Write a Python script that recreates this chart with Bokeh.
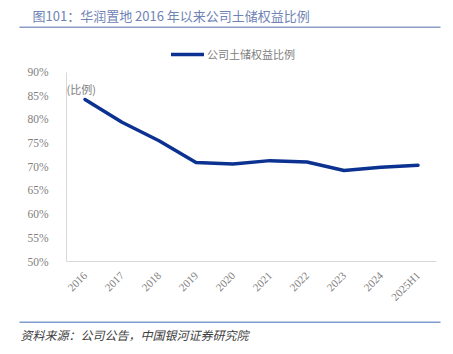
from bokeh.plotting import figure
from bokeh.layouts import column
from bokeh.models import (FactorRange, Range1d, FixedTicker, PrintfTickFormatter,
                          Label, Legend, LegendItem, ColumnDataSource)
from bokeh.core.properties import value
from bokeh.embed import file_html
from bokeh.resources import INLINE
import math

categories = ["2016", "2017", "2018", "2019", "2020", "2021", "2022", "2023", "2024", "2025H1"]
ratio = [84.2, 79.4, 75.5, 70.9, 70.6, 71.3, 71.0, 69.2, 69.9, 70.3]
y_ticks = [50, 55, 60, 65, 70, 75, 80, 85, 90]
y_min, y_max = 50, 90
series_name = "公司土储权益比例"
title_text = "图101：华润置地 2016 年以来公司土储权益比例"
source_text = "资料来源：公司公告，中国银河证券研究院"
unit_text = "(比例)"

W = 453
HEAD_H, FOOT_H = 44, 44
MAIN_H = 354 - HEAD_H - FOOT_H          # 266
LEFT, RIGHT = 66, 17
FRAME_BOTTOM = 218                      # within main figure
Y90_FROM_TOP = 27.7                     # px from frame top to the 90% line
px_per_unit = (FRAME_BOTTOM - Y90_FROM_TOP) / (y_max - y_min)
y_top = y_max + Y90_FROM_TOP / px_per_unit

SERIF = "'Liberation Serif', 'Noto Sans CJK SC'"
SANS = "'Noto Sans CJK SC'"
GREY = "#808080"


def blank(h):
    f = figure(width=W, height=h, x_range=Range1d(0, W), y_range=Range1d(h, 0),
               output_backend="svg", toolbar_location=None,
               min_border=0, min_border_left=0, min_border_right=0,
               min_border_top=0, min_border_bottom=0,
               x_axis_type=None, y_axis_type=None)
    f.outline_line_color = None
    f.xgrid.visible = False
    f.ygrid.visible = False
    f.frame_align = False
    return f


# header: title + rule
head = blank(HEAD_H)
head.text(x=[32], y=[14.5], text=[title_text], text_font=value(SANS),
          text_font_size="13px", text_color="#6f83b5",
          text_baseline="middle", text_align="left")
head.segment(x0=[19], y0=[26.8], x1=[440], y1=[26.8], line_color="#8a9cc8", line_width=1.6)

# main chart
p = figure(width=W, height=MAIN_H, x_range=FactorRange(*categories),
           y_range=Range1d(y_min, y_top), output_backend="svg", toolbar_location=None,
           min_border_left=LEFT, min_border_right=RIGHT,
           min_border_top=0, min_border_bottom=MAIN_H - FRAME_BOTTOM)
p.frame_align = False
p.outline_line_color = None
p.xgrid.grid_line_color = None
p.ygrid.grid_line_color = None

src = ColumnDataSource(dict(x=categories, y=ratio))
r = p.line("x", "y", source=src, line_color="#0b3191", line_width=3.5,
           line_join="round", line_cap="round")

p.yaxis.ticker = FixedTicker(ticks=y_ticks)
p.yaxis.formatter = PrintfTickFormatter(format="%d%%")
p.yaxis.bounds = (y_min, y_max)
for ax in (p.xaxis[0], p.yaxis[0]):
    ax.axis_line_color = "#d9d9d9"
    ax.axis_line_width = 1
    ax.major_tick_line_color = None
    ax.minor_tick_line_color = None
    ax.major_label_text_color = GREY
    ax.major_label_text_font = SERIF
p.yaxis.major_label_text_font_size = "11.5px"
p.yaxis.major_label_standoff = 12
p.xaxis.major_label_text_font_size = "11px"
p.xaxis.major_label_orientation = math.pi / 4
p.xaxis.major_label_standoff = 6

p.add_layout(Label(x=0, y=FRAME_BOTTOM - (89 - HEAD_H),
                   x_units="screen", y_units="screen",
                   text=unit_text, text_font=SANS, text_font_size="11px",
                   text_color=GREY, text_baseline="middle", text_align="left"))

legend = Legend(items=[LegendItem(label=series_name, renderers=[r])],
                location=(171 - LEFT, FRAME_BOTTOM - (65 - HEAD_H)),
                padding=0, margin=0, spacing=0,
                glyph_width=33, glyph_height=20, label_height=20, label_standoff=3,
                label_text_font=SANS, label_text_font_size="11px",
                label_text_color=GREY, border_line_color=None,
                background_fill_alpha=0)
p.add_layout(legend, "center")

# footer: rule + source
foot = blank(FOOT_H)
foot.segment(x0=[19], y0=[11.8], x1=[440], y1=[11.8], line_color="#7f9ccf", line_width=1.6)
foot.text(x=[20], y=[24], text=[source_text], text_font=value(SANS),
          text_font_size="12px", text_font_style="italic", text_color="#404040",
          text_baseline="middle", text_align="left")

layout = column(head, p, foot, spacing=0)
open("out.html", "w").write(file_html(layout, INLINE))
